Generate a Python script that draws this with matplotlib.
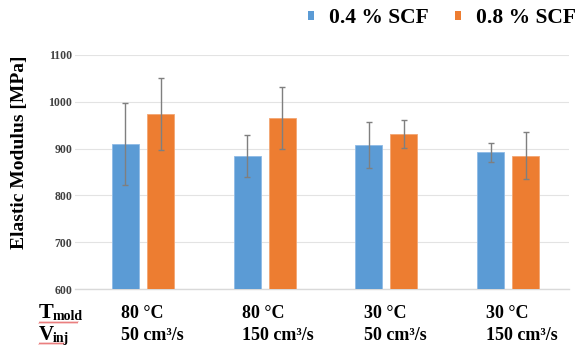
import matplotlib
matplotlib.use('Agg')
import matplotlib.pyplot as plt
import numpy as np
from matplotlib.patches import Patch
from matplotlib.lines import Line2D

plt.rcParams['font.family'] = ['Liberation Serif', 'DejaVu Serif']
plt.rcParams['font.weight'] = 'bold'

# data
temps = ['80 °C', '80 °C', '30 °C', '30 °C']
speeds = ['50 cm³/s', '150 cm³/s', '50 cm³/s', '150 cm³/s']
series_names = ['0.4 % SCF', '0.8 % SCF']
mod_04 = [910, 885, 907, 892]
err_04 = [88, 45, 49, 20]
mod_08 = [973, 966, 931, 885]
err_08 = [77, 66, 30, 51]

BLUE = '#5B9BD5'
ORANGE = '#ED7D31'
W, H = 579, 345

fig = plt.figure(figsize=(W / 100, H / 100), dpi=100)
ax = fig.add_axes([75 / W, 1 - 289 / H, (569 - 75) / W, (289 - 55) / H])

x = np.arange(len(temps))
bw = 0.222
off = 0.144
err_kw = dict(ecolor='#7f7f7f', elinewidth=1.0, capsize=2.5, capthick=1.0)
ax.bar(x - off, mod_04, bw, color=BLUE, edgecolor='#8fbbe6', linewidth=0.6,
       yerr=err_04, error_kw=err_kw, zorder=3)
ax.bar(x + off, mod_08, bw, color=ORANGE, edgecolor='#f3a673', linewidth=0.6,
       yerr=err_08, error_kw=err_kw, zorder=3)

ax.set_ylim(600, 1100)
ax.set_xlim(-0.559, 3.501)
ax.set_yticks([600, 700, 800, 900, 1000, 1100])
ax.yaxis.grid(True, color='#e3e3e3', linewidth=0.8, zorder=0)
ax.set_axisbelow(True)
for s in ['top', 'right', 'left']:
    ax.spines[s].set_visible(False)
ax.spines['bottom'].set_color('#d9d9d9')
ax.spines['bottom'].set_linewidth(1.0)
ax.tick_params(axis='y', length=0, pad=2, labelsize=8.5, colors='#404040')
ax.tick_params(axis='x', length=0, labelbottom=False)
for lbl in ax.get_yticklabels():
    lbl.set_fontweight('bold')
ax.set_ylabel('Elastic Modulus [MPa]', fontsize=14, fontweight='bold')
ax.yaxis.set_label_coords(-(75 - 28) / (569 - 75), (289 - 152) / (289 - 55))

# category labels (two rows)
tr = ax.get_xaxis_transform()
for i in range(len(temps)):
    ax.text(x[i] - 0.185, -0.124, temps[i], transform=tr, fontsize=13,
            fontweight='bold', ha='left', va='baseline')
    ax.text(x[i] - 0.185, -0.218, speeds[i], transform=tr, fontsize=13,
            fontweight='bold', ha='left', va='baseline')

# row headers
fig.text(39 / W, 1 - 318 / H, 'T', fontsize=16, fontweight='bold', va='baseline')
fig.text(53 / W, 1 - 320 / H, 'mold', fontsize=10, fontweight='bold', va='baseline')
fig.text(39 / W, 1 - 340 / H, 'V', fontsize=15, fontweight='bold', va='baseline')
fig.text(53 / W, 1 - 342 / H, 'inj', fontsize=10, fontweight='bold', va='baseline')

# spell-check squiggles under the subscripts
for x0, x1, yy in [(39, 78, 322.5), (39, 64, 343.5)]:
    px = np.arange(x0, x1 + 0.5, 1.0)
    py = yy + 0.8 * np.where(np.arange(len(px)) % 2 == 0, 1, -1)
    fig.add_artist(Line2D(px / W, 1 - py / H, color='#e04040', linewidth=0.6, alpha=0.8))

handles = [Patch(facecolor=BLUE), Patch(facecolor=ORANGE)]
fig.legend(handles, series_names, loc='center', bbox_to_anchor=(442 / W, 1 - 18 / H),
           ncol=2, frameon=False, prop={'size': 15.5, 'weight': 'bold'},
           handlelength=0.3, handleheight=0.3, handletextpad=0.7,
           columnspacing=1.2, borderpad=0, borderaxespad=0)

fig.savefig('out.png', dpi=100)
